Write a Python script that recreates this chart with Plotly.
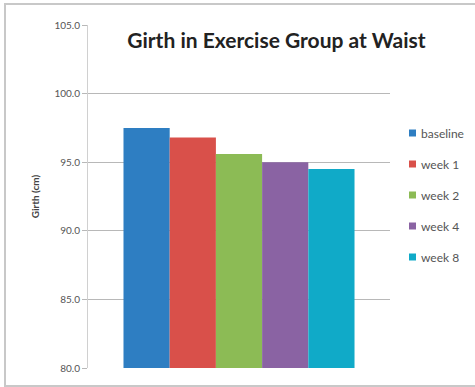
import plotly.graph_objects as go

# Waist girth of the exercise group at each measurement point
timepoints = ["baseline", "week 1", "week 2", "week 4", "week 8"]
girth_cm = [97.5, 96.8, 95.6, 95.0, 94.5]
bar_colors = ["#2e7ec2", "#d9504a", "#8cbb55", "#8a63a3", "#10aac8"]

y_ticks = [80, 85, 90, 95, 100, 105]

W, H = 475, 387
M = dict(l=88, r=85, t=25, b=19)
PW = W - M["l"] - M["r"]
PH = H - M["t"] - M["b"]


def px_x(x):
    return (x - M["l"]) / PW


def px_y(y):
    return (H - M["b"] - y) / PH


fig = go.Figure()
for name, val, col in zip(timepoints, girth_cm, bar_colors):
    fig.add_trace(go.Bar(
        x=["Waist"], y=[val], name=name, showlegend=False,
        marker=dict(color=col, line=dict(width=0)),
    ))

# legend: small colour keys with labels, stacked on the right
shapes = []
annotations = []
for i, (name, col) in enumerate(zip(timepoints, bar_colors)):
    yc = 133 + i * 31
    shapes.append(dict(
        type="rect", xref="paper", yref="paper",
        x0=px_x(409), x1=px_x(416), y0=px_y(yc + 3.5), y1=px_y(yc - 3.5),
        fillcolor=col, line=dict(width=0),
    ))
    annotations.append(dict(
        xref="paper", yref="paper", x=px_x(419), y=px_y(yc),
        xanchor="left", yanchor="middle", showarrow=False, text=name,
        font=dict(family="Lato", size=12, color="#555555"),
    ))

# light frame around the whole chart
shapes.append(dict(
    type="rect", xref="paper", yref="paper",
    x0=px_x(5), x1=px_x(478), y0=px_y(386), y1=px_y(4),
    line=dict(color="#c8c8c8", width=2), fillcolor="rgba(0,0,0,0)",
    layer="below",
))

fig.update_layout(
    width=W, height=H,
    margin=dict(**M, autoexpand=False),
    paper_bgcolor="white", plot_bgcolor="white",
    barmode="group", bargap=0.235, bargroupgap=0,
    showlegend=False,
    title=dict(
        text="Girth in Exercise Group at Waist",
        font=dict(family="Lato", size=21, color="#222222", weight="bold"),
        x=0.582, xanchor="center", y=0.895, yanchor="middle",
    ),
    xaxis=dict(
        showticklabels=False, showgrid=False, ticks="",
        showline=False, zeroline=False,
    ),
    yaxis=dict(
        range=[80, 105], tickvals=y_ticks,
        ticktext=[f"{v:.1f}" for v in y_ticks],
        tickfont=dict(family="Lato", size=10, color="#555555"),
        showgrid=True, gridcolor="#b8b8b8", gridwidth=1,
        showline=True, linecolor="#d0d0d0", linewidth=1,
        ticks="outside", ticklen=5, tickcolor="#b8b8b8",
        zeroline=False,
        title=dict(text="<b>Girth (cm)</b>",
                   font=dict(family="Lato", size=10, color="#444444"),
                   standoff=12),
    ),
    shapes=shapes,
    annotations=annotations,
)

fig.write_html("out.html")
